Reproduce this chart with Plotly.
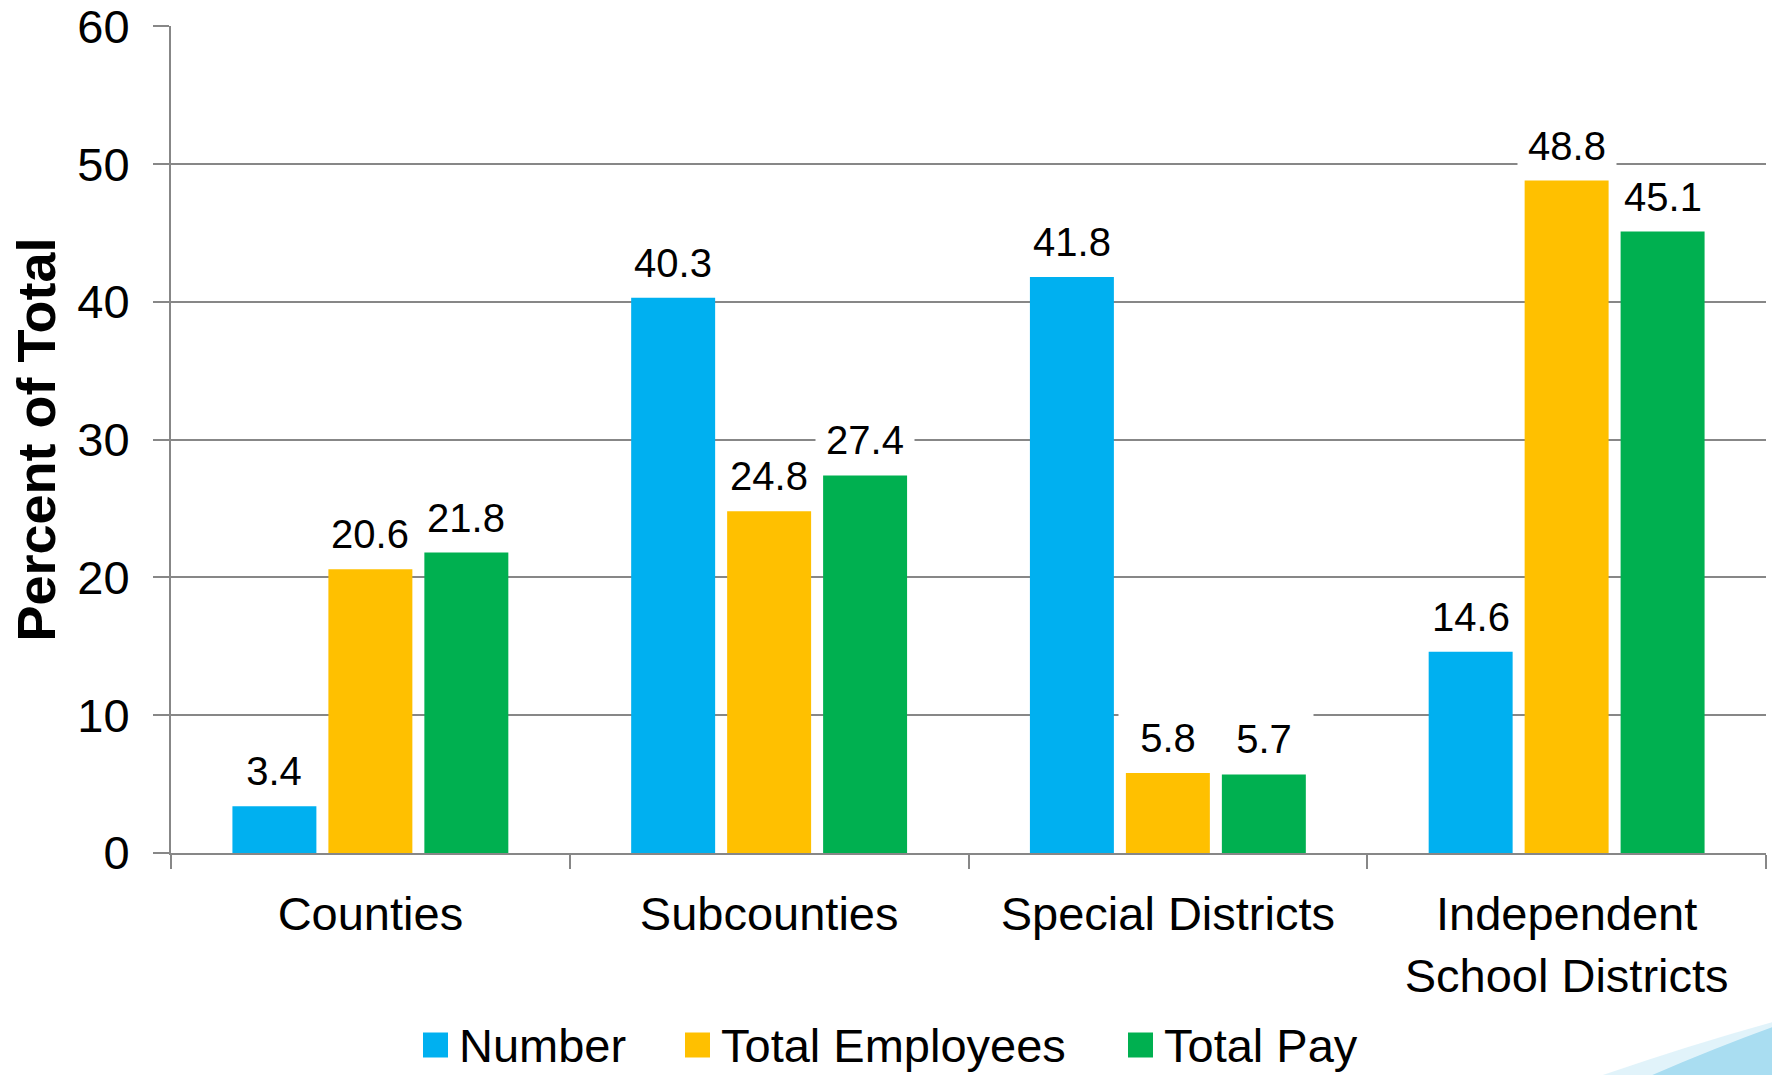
import plotly.graph_objects as go

# Categories and series (percent of total)
categories = ["Counties", "Subcounties", "Special Districts", "Independent<br>School Districts"]
series_names = ["Number", "Total Employees", "Total Pay"]
number_vals = [3.4, 40.3, 41.8, 14.6]
employees_vals = [20.6, 24.8, 5.8, 48.8]
pay_vals = [21.8, 27.4, 5.7, 45.1]
series_colors = ["#00B0F0", "#FFC000", "#00B050"]

y_ticks = [0, 10, 20, 30, 40, 50, 60]

FONT = "Arial, 'Liberation Sans', sans-serif"
BARGAP = 0.278
BARGROUPGAP = 0.125
GRID = "#878787"

# plot-area geometry in pixels (used to place the legend and corner decoration)
W, H = 1772, 1075
ML, MR, MT, MB = 171, 6, 26, 222
PW, PH = W - ML - MR, H - MT - MB


def px_to_paper_x(px):
    return (px - ML) / PW


def px_to_paper_y(py):
    return (H - MB - py) / PH


all_series = [number_vals, employees_vals, pay_vals]

fig = go.Figure()
for name, vals, color in zip(series_names, all_series, series_colors):
    fig.add_trace(go.Bar(
        x=categories, y=vals, name=name,
        marker=dict(color=color, line=dict(width=0)),
        showlegend=False, hoverinfo="x+y+name",
    ))

# value labels above each bar, on a white box so gridlines break behind them
slot = (1 - BARGAP) / len(all_series)
for j, vals in enumerate(all_series):
    offset = (j - (len(all_series) - 1) / 2) * slot
    for i, v in enumerate(vals):
        fig.add_annotation(
            x=i + offset, y=v, xref="x", yref="y",
            text=f"{v:.1f}", showarrow=False,
            yanchor="middle", yshift=35,
            font=dict(family=FONT, size=40, color="#000000"),
            bgcolor="#FFFFFF", borderpad=4, width=90,
        )

# legend row: square swatch followed by the series name
legend_y = 1045
legend_swatch_x = [423, 685, 1128]
swatch = 25
for name, color, sx in zip(series_names, series_colors, legend_swatch_x):
    fig.add_shape(
        type="rect", xref="paper", yref="paper",
        x0=px_to_paper_x(sx), x1=px_to_paper_x(sx + swatch),
        y0=px_to_paper_y(legend_y + swatch / 2), y1=px_to_paper_y(legend_y - swatch / 2),
        fillcolor=color, line=dict(width=0),
    )
    fig.add_annotation(
        x=px_to_paper_x(sx + swatch + 9), y=px_to_paper_y(legend_y),
        xref="paper", yref="paper", xanchor="left", yanchor="middle",
        text=name, showarrow=False,
        font=dict(family=FONT, size=47, color="#000000"),
    )

# decorative swoosh in the lower right corner
fig.add_shape(
    type="path", xref="paper", yref="paper", layer="below",
    path=(f"M {px_to_paper_x(1650)},{px_to_paper_y(1076)} "
          f"Q {px_to_paper_x(1715)},{px_to_paper_y(1048)} {px_to_paper_x(1773)},{px_to_paper_y(1027)} "
          f"L {px_to_paper_x(1773)},{px_to_paper_y(1076)} Z"),
    fillcolor="#A9DDF2", line=dict(width=0),
)
fig.add_shape(
    type="path", xref="paper", yref="paper", layer="below",
    path=(f"M {px_to_paper_x(1600)},{px_to_paper_y(1076)} "
          f"Q {px_to_paper_x(1690)},{px_to_paper_y(1045)} {px_to_paper_x(1773)},{px_to_paper_y(1022)} "
          f"L {px_to_paper_x(1773)},{px_to_paper_y(1076)} Z"),
    fillcolor="rgba(169,221,242,0.35)", line=dict(width=0),
)

fig.update_layout(
    width=W, height=H,
    margin=dict(l=ML, r=MR, t=MT, b=MB, autoexpand=False),
    paper_bgcolor="#FFFFFF", plot_bgcolor="#FFFFFF",
    barmode="group", bargap=BARGAP, bargroupgap=BARGROUPGAP,
    font=dict(family=FONT, color="#000000"),
    showlegend=False,
)

fig.update_xaxes(
    type="category", automargin=False,
    showgrid=False, showline=True, linecolor=GRID, linewidth=2,
    ticks="outside", tickson="boundaries", ticklen=14, tickwidth=2, tickcolor=GRID,
    tickfont=dict(family=FONT, size=47, color="#000000"),
    ticklabelstandoff=19,
    zeroline=False,
)

fig.update_yaxes(
    range=[0, 60.02], tickvals=y_ticks, automargin=False,
    ticklabeloverflow="allow",
    showgrid=True, gridcolor=GRID, gridwidth=2,
    showline=True, linecolor=GRID, linewidth=2,
    ticks="outside", ticklen=16, tickwidth=2, tickcolor=GRID,
    tickfont=dict(family=FONT, size=47, color="#000000"),
    ticklabelstandoff=14,
    zeroline=False,
    title=dict(text="<b>Percent of Total</b>", standoff=4,
               font=dict(family=FONT, size=54, color="#000000")),
)

fig.write_html("out.html")
